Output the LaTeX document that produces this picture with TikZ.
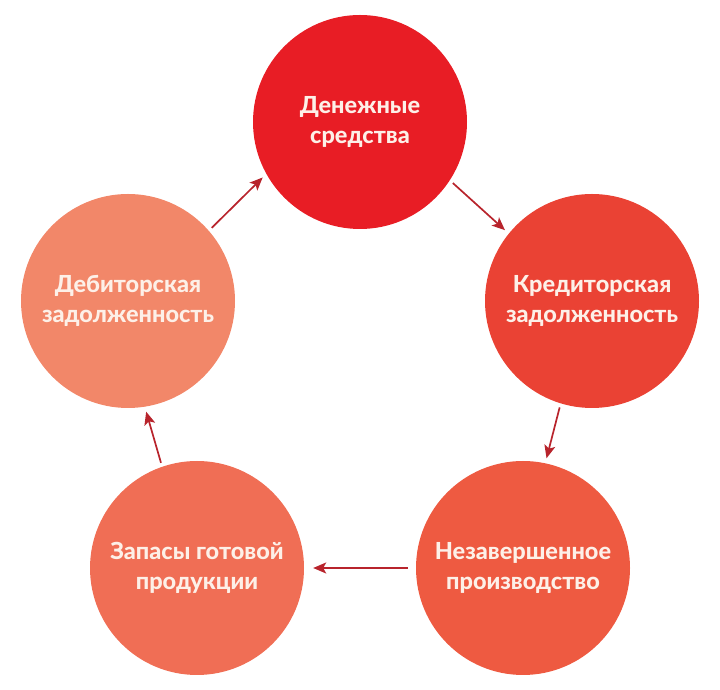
\documentclass[tikz,border=0pt]{standalone}
\usepackage{fontspec}
\setmainfont{Lato}
\IfFontExistsTF{Lato Heavy}
  {\newfontfamily\stagefont{Lato Heavy}}
  {\newcommand\stagefont{\bfseries}}
\usepackage{xcolor}
\usepackage{tikz}
\usetikzlibrary{arrows.meta,positioning}

\definecolor{cashred}{HTML}{E81D25}
\definecolor{credred}{HTML}{EA4234}
\definecolor{wipred}{HTML}{EE5A41}
\definecolor{stockred}{HTML}{F06E55}
\definecolor{debitred}{HTML}{F28769}
\definecolor{arrowred}{HTML}{B8242C}
\definecolor{labelwhite}{HTML}{FDF0E8}

\begin{document}
\begin{tikzpicture}[x=1pt,y=1pt,
    stage/.style={circle,minimum size=214pt,inner sep=0pt,align=center,
      text=labelwhite,font=\stagefont\fontsize{23.5}{30}\selectfont},
    flow/.style={draw=arrowred,line width=1.7pt,
      -{Stealth[length=13pt,width=11pt,inset=3pt]},
      shorten <=4pt,shorten >=5pt}]

    \useasboundingbox (0,0) rectangle (720,690);

    \node[stage,fill=cashred]  (cash)   at (360,568) {Денежные\\средства};
    \node[stage,fill=credred]  (credit) at (592,389) {Кредиторская\\задолженность};
    \node[stage,fill=wipred]   (wip)    at (523,122) {Незавершенное\\производство};
    \node[stage,fill=stockred] (stock)  at (197,122) {Запасы готовой\\продукции};
    \node[stage,fill=debitred] (debit)  at (128,389) {Дебиторская\\задолженность};

    \draw[flow] (cash.-33) -- (credit.141);
    \draw[flow] (credit.253) -- (wip.78);
    \draw[flow,shorten <=8pt,shorten >=9pt] (wip.180) -- (stock.0);
    \draw[flow] (stock.109) -- (debit.-81);
    \draw[flow] (debit.41) -- (cash.209);

\end{tikzpicture}
\end{document}
